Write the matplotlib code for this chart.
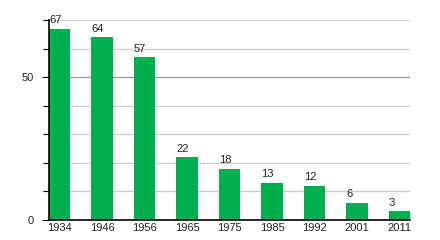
import matplotlib
matplotlib.use("Agg")
from matplotlib import pyplot as plt
from matplotlib.ticker import MultipleLocator

years = ['1934', '1946', '1956', '1965', '1975', '1985', '1992', '2001', '2011']
values = [67, 64, 57, 22, 18, 13, 12, 6, 3]

green = '#00b04f'
plt.rcParams['font.family'] = ['Liberation Sans', 'DejaVu Sans']

fig = plt.figure(figsize=(4.4, 2.4), dpi=100)
ax = fig.add_axes([49 / 440, 20 / 240, 361 / 440, 200 / 240])

x = list(range(len(years)))
ax.bar(x, values, width=0.5, color=green, zorder=3)

for i, v in enumerate(values):
    ax.text(i - 0.25, v + 1.2, str(v), ha='left', va='bottom', fontsize=8, color='#222222', zorder=4)

ax.set_xlim(-0.25, len(years) - 0.75)
ax.set_ylim(0, 70)
ax.set_xticks(x)
ax.set_xticklabels(years, fontsize=8, color='#222222')
ax.set_yticks([0, 50])
ax.set_yticklabels(['0', '50'], fontsize=8, color='#222222')
ax.yaxis.set_minor_locator(MultipleLocator(10))

for y in range(10, 71, 10):
    if y == 50:
        ax.axhline(y, color='#999999', lw=0.9, zorder=1)
    elif y == 70:
        ax.axhline(y, color='#d4d4d4', lw=0.9, zorder=1)
    else:
        ax.axhline(y, color='#cccccc', lw=0.9, zorder=1)

ax.tick_params(axis='x', length=0, pad=2)
ax.tick_params(axis='y', which='major', length=5, width=0.8, pad=6)
ax.tick_params(axis='y', which='minor', length=4, width=0.8)

for side in ['top', 'right']:
    ax.spines[side].set_visible(False)
ax.spines['left'].set_linewidth(1.2)
ax.spines['bottom'].set_linewidth(1.2)
ax.spines['left'].set_zorder(5)
ax.spines['bottom'].set_zorder(5)

fig.savefig('out.png', dpi=100)
